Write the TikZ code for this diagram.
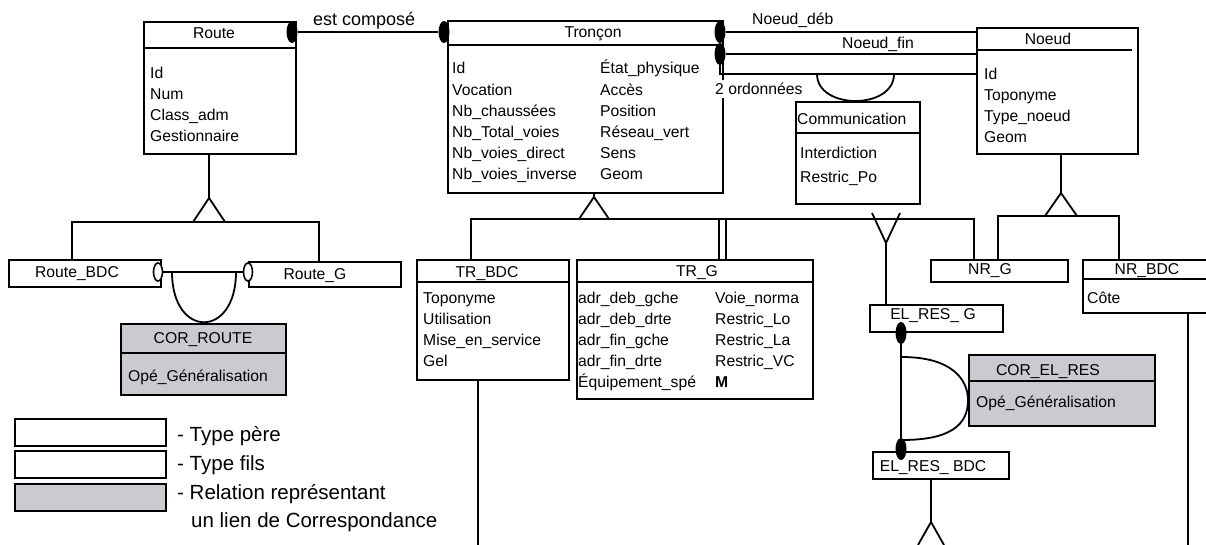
\documentclass[tikz,border=0pt]{standalone}
\usepackage{fontspec}
\setmainfont{Liberation Sans}
\usetikzlibrary{shapes.geometric}
\definecolor{corgris}{RGB}{201,203,209}
\newcommand\txtfont{\fontsize{15.7}{21}\selectfont}
\newcommand\bigfont{\fontsize{18}{22}\selectfont}
\newcommand\legfont{\fontsize{20.5}{28}\selectfont}

\tikzset{
  ent/.style={draw, line width=1.8pt, anchor=north west, inner sep=0pt},
  cor/.style={ent, fill=corgris},
  titre/.style={font=\txtfont, anchor=base, inner sep=0pt},
  attr/.style={font=\txtfont, anchor=base west, inner sep=0pt},
  lien/.style={line width=1.8pt},
  pastille/.style={ellipse, fill=black, inner sep=0pt, minimum width=11pt, minimum height=22pt},
  anneau/.style={ellipse, draw, fill=white, line width=1.6pt, inner sep=0pt, minimum width=9pt, minimum height=18pt},
}

\begin{document}
\begin{tikzpicture}[x=1pt, y=-1pt]
    \useasboundingbox (0,0) rectangle (1206,545);

    % Route
    \node[ent, minimum width=152pt, minimum height=132pt] (route) at (143,21) {};
    \draw[lien] (route.west |- 0,48) -- (route.east |- 0,48);
    \node[titre] (route-t) at (214,39) {Route};
    \foreach \a [count=\i] in {Id,Num,Class\_adm,Gestionnaire}
        \node[attr] (route-\i) at (150,{58+21*\i}) {\a};

    % Tronçon
    \node[ent, minimum width=275pt, minimum height=172pt] (tron) at (447,20) {};
    \draw[lien] (tron.west |- 0,45) -- (tron.east |- 0,45);
    \node[titre] (tron-t) at (593,38) {Tronçon};
    \foreach \a [count=\i] in {Id,Vocation,Nb\_chaussées,Nb\_Total\_voies,Nb\_voies\_direct,Nb\_voies\_inverse}
        \node[attr] (tron-g\i) at (452,{52.8+21.2*\i}) {\a};
    \foreach \a [count=\i] in {État\_physique,Accès,Position,Réseau\_vert,Sens,Geom}
        \node[attr] (tron-d\i) at (600,{52.8+21.2*\i}) {\a};

    % Noeud
    \node[ent, minimum width=161pt, minimum height=126pt] (noeud) at (976,27) {};
    \draw[lien] (978,50) -- (1132,50);
    \node[titre] (noeud-t) at (1048,45) {Noeud};
    \foreach \a [count=\i] in {Id,Toponyme,Type\_noeud,Geom}
        \node[attr] (noeud-\i) at (984,{59+21*\i}) {\a};

    % Communication
    \node[ent, minimum width=124pt, minimum height=102pt] (comm) at (795,101) {};
    \draw[lien] (comm.west |- 0,133) -- (comm.east |- 0,133);
    \node[attr] (comm-t) at (797,125) {Communication};
    \node[attr] (comm-1) at (800,159) {Interdiction};
    \node[attr] (comm-2) at (800,183) {Restric\_Po};

    % TR_BDC et TR_G
    \node[ent, minimum width=152pt, minimum height=120pt] (trbdc) at (416,259) {};
    \draw[lien] (trbdc.west |- 0,282) -- (trbdc.east |- 0,282);
    \node[titre] (trbdc-t) at (487,277) {TR\_BDC};
    \foreach \a [count=\i] in {Toponyme,Utilisation,Mise\_en\_service,Gel}
        \node[attr] (trbdc-\i) at (423,{282+21*\i}) {\a};
    \node[ent, minimum width=236pt, minimum height=139pt] (trg) at (576,259) {};
    \draw[lien] (trg.west |- 0,282) -- (trg.east |- 0,282);
    \node[titre] (trg-t) at (697,276) {TR\_G};
    \foreach \a [count=\i] in {adr\_deb\_gche,adr\_deb\_drte,adr\_fin\_gche,adr\_fin\_drte,Équipement\_spé}
        \node[attr] (trg-g\i) at (578,{282+21*\i}) {\a};
    \foreach \a [count=\i] in {Voie\_norma,Restric\_Lo,Restric\_La,Restric\_VC,\textbf{M}}
        \node[attr] (trg-d\i) at (715,{282+21*\i}) {\a};

    % Route_BDC, Route_G et COR_ROUTE
    \node[ent, minimum width=152pt, minimum height=27pt] (rbdc) at (8,259) {};
    \node[titre] (rbdc-t) at (77,277) {Route\_BDC};
    \node[ent, minimum width=152pt, minimum height=25pt] (rg) at (248,261) {};
    \node[titre] (rg-t) at (315,279) {Route\_G};
    \node[cor, minimum width=165pt, minimum height=71pt] (corr) at (120,323) {};
    \draw[lien] (corr.west |- 0,353) -- (corr.east |- 0,353);
    \node[titre] (corr-t) at (203,343) {COR\_ROUTE};
    \node[attr] (corr-1) at (128,381) {Opé\_Généralisation};

    % NR_G, NR_BDC
    \node[ent, minimum width=137pt, minimum height=22pt] (nrg) at (930,259) {};
    \node[titre] (nrg-t) at (990,274) {NR\_G};
    \node[ent, minimum width=140pt, minimum height=53pt] (nrbdc) at (1082,259) {};
    \draw[lien] (nrbdc.west |- 0,279) -- (nrbdc.east |- 0,279);
    \node[titre] (nrbdc-t) at (1147,274) {NR\_BDC};
    \node[attr] (nrbdc-1) at (1087,303) {Côte};

    % EL_RES_G, EL_RES_BDC et COR_EL_RES
    \node[ent, minimum width=133pt, minimum height=27pt] (elg) at (869,304) {};
    \node[titre] (elg-t) at (933,319) {EL\_RES\_ G};
    \node[ent, minimum width=136pt, minimum height=27pt] (elb) at (872,451) {};
    \node[titre] (elb-t) at (933,471) {EL\_RES\_ BDC};
    \node[cor, minimum width=186pt, minimum height=71pt] (corel) at (968,354) {};
    \draw[lien] (corel.west |- 0,381) -- (corel.east |- 0,381);
    \node[titre] (corel-t) at (1048,375) {COR\_EL\_RES};
    \node[attr] (corel-1) at (976,407) {Opé\_Généralisation};

    % est composé
    \node[pastille] (route-p) at (292,32) {};
    \node[pastille] (tron-p) at (444,32) {};
    \draw[lien] (route-p) -- (tron-p);
    \node[font=\bigfont, anchor=base west, inner sep=0pt] (compose) at (313,26) {est composé};

    % Noeud_déb, Noeud_fin, 2 ordonnées
    \node[pastille] (tron-nd) at (720,32) {};
    \node[pastille] (tron-nf) at (720,54) {};
    \draw[lien] (tron-nd) -- (tron-nd -| noeud.west);
    \draw[lien] (tron-nf) -- (tron-nf -| noeud.west);
    \coordinate (ordo) at (720,74);
    \draw[lien] (tron-nf) -- (ordo) -- (ordo -| noeud.west);
    \draw[lien] (ordo -| 817,0) .. controls +(0,36) and +(0,36) .. (ordo -| 894,0);
    \node[attr] (deb-t) at (752,25) {Noeud\_déb};
    \node[attr] (fin-t) at (842,49) {Noeud\_fin};
    \node[attr, fill=white, inner ysep=3pt] (ordo-t) at (715,95) {2 ordonnées};

    % généralisation de Route
    \coordinate (r-sommet) at (209,198);
    \draw[lien] (route.south -| r-sommet) -- (r-sommet);
    \draw[lien] (193,222) -- (r-sommet) -- (225,222);
    \draw[lien] (rbdc.north -| 72,0) -- (72,222) -- (319,222) -- (rg.north -| 319,0);

    % correspondance Route_BDC / Route_G
    \node[anneau] (rbdc-a) at (158,272) {};
    \node[anneau] (rg-a) at (248,272) {};
    \draw[lien] (rbdc-a) -- (rg-a);
    \draw[lien] (172,272) .. controls (172,339) and (236,339) .. (236,272);

    % généralisation de Tronçon
    \coordinate (t-sommet) at (594,197);
    \draw[lien] (tron.south -| t-sommet) -- (t-sommet);
    \draw[lien] (579,219) -- (t-sommet) -- (609,219);
    \draw[lien] (trbdc.north -| 471,0) -- (471,219) -- (974,219) -- (nrg.north -| 974,0);
    \draw[lien] (719,219) -- (trg.north -| 719,0);
    \draw[lien] (726,219) -- (trg.north -| 726,0);
    \coordinate (y-pied) at (886,243);
    \draw[lien] (872,213) -- (y-pied) -- (900,213);
    \draw[lien] (y-pied) -- (elg.north -| y-pied);

    % généralisation de Noeud
    \coordinate (n-sommet) at (1061,193);
    \draw[lien] (noeud.south -| n-sommet) -- (n-sommet);
    \draw[lien] (1045,216) -- (n-sommet) -- (1077,216);
    \draw[lien] (nrg.north -| 998,0) -- (998,216) -- (1119,216) -- (nrbdc.north -| 1119,0);

    % correspondance EL_RES_G / EL_RES_BDC
    \node[pastille] (elg-p) at (901,333) {};
    \node[pastille] (elb-p) at (901,449) {};
    \draw[lien] (elg-p) -- (elb-p);
    \draw[lien] (902,357) .. controls (950,357) and (968,378) .. ([yshift=-10pt]corel.west)
        .. controls (968,425) and (950,440) .. (902,440);

    % liens vers le bas
    \coordinate (bas-tr) at (478,545);
    \coordinate (bas-nr) at (1188,545);
    \draw[lien] (trbdc.south -| bas-tr) -- (bas-tr);
    \draw[lien] (nrbdc.south -| bas-nr) -- (bas-nr);
    \coordinate (e-sommet) at (931,522);
    \draw[lien] (elb.south -| e-sommet) -- (e-sommet);
    \draw[lien] (918,545) -- (e-sommet) -- (944,545);

    % légende
    \node[ent, minimum width=151pt, minimum height=27pt] (leg-1) at (14,418) {};
    \node[ent, minimum width=151pt, minimum height=27pt] (leg-2) at (14,450) {};
    \node[cor, minimum width=151pt, minimum height=27pt] (leg-3) at (14,483) {};
    \node[attr, font=\legfont] (leg-1t) at (177,441) {- Type père};
    \node[attr, font=\legfont] (leg-2t) at (177,470) {- Type fils};
    \node[attr, font=\legfont] (leg-3t) at (177,499) {- Relation représentant};
    \node[attr, font=\legfont] (leg-4t) at (191,527) {un lien de Correspondance};

\end{tikzpicture}
\end{document}
